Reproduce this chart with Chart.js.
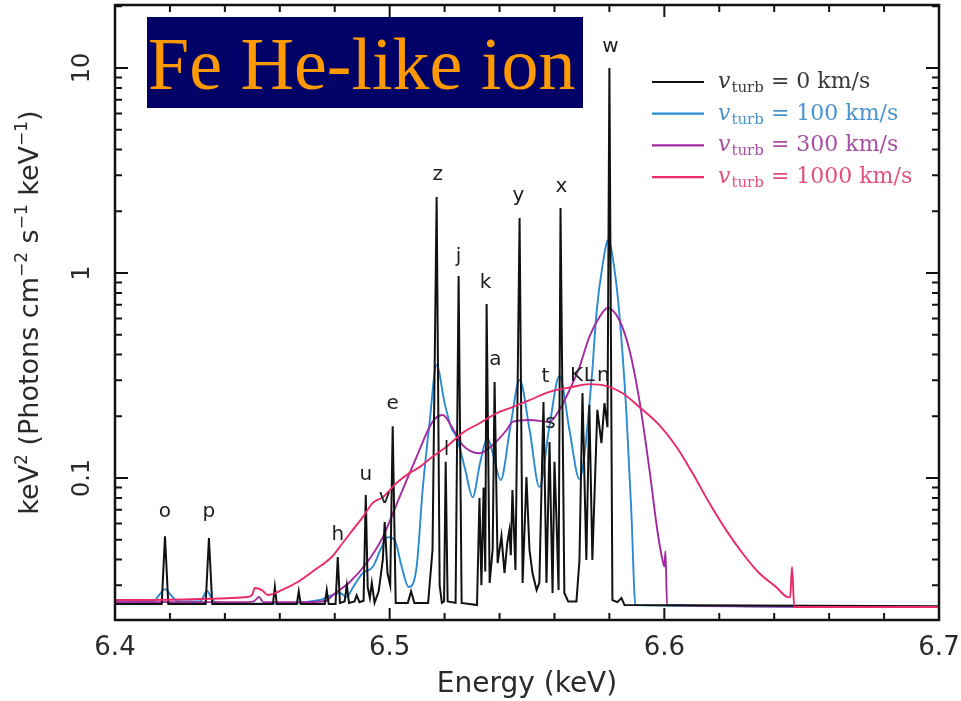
<!DOCTYPE html>
<html>
<head>
<meta charset="utf-8">
<title>Fe He-like ion</title>
<script src="https://cdn.jsdelivr.net/npm/chart.js@4.4.0/dist/chart.umd.min.js"></script>
<style>
  html, body { margin: 0; padding: 0; background: #fff; }
  canvas { display: block; }
</style>
</head>
<body>
<canvas id="spectrum" width="961" height="701"></canvas>
<script>
// Energies in keV, flux in keV^2 (photons cm^-2 s^-1 keV^-1)
const turbSpeeds = [0, 100, 300, 1000];

// v_turb = 0 km/s
const energy0 = [6.4000, 6.4170, 6.4182, 6.4194, 6.4330, 6.4342, 6.4354, 6.4575, 6.4582, 6.4589,
  6.4662, 6.4669, 6.4676, 6.4764, 6.4771, 6.4778, 6.4803, 6.4811, 6.4819, 6.4836,
  6.4844, 6.4852, 6.4872, 6.4880, 6.4890, 6.4905, 6.4913, 6.4920, 6.4928, 6.4935,
  6.4945, 6.4960, 6.4975, 6.4982, 6.4992, 6.5002, 6.5011, 6.5022, 6.5066, 6.5078,
  6.5090, 6.5140, 6.5156, 6.5171, 6.5182, 6.5190, 6.5198, 6.5204, 6.5211, 6.5240,
  6.5251, 6.5262, 6.5318, 6.5327, 6.5334, 6.5342, 6.5348, 6.5353, 6.5364, 6.5375, 6.5382,
  6.5393, 6.5407, 6.5418, 6.5428, 6.5436, 6.5441, 6.5447, 6.5458, 6.5473, 6.5484,
  6.5498, 6.5509, 6.5520, 6.5535, 6.5545, 6.5560, 6.5571, 6.5582, 6.5593, 6.5600, 6.5607,
  6.5615, 6.5622, 6.5636, 6.5650, 6.5680, 6.5691, 6.5702, 6.5716, 6.5727, 6.5738,
  6.5756, 6.5771, 6.5782, 6.5793, 6.5800, 6.5811, 6.5829, 6.5844, 6.5855, 6.7000];
const flux0 = [0.0243, 0.0243, 0.052, 0.0243, 0.0243, 0.051, 0.0243, 0.0243, 0.0295, 0.0243,
  0.0243, 0.0280, 0.0243, 0.0243, 0.0284, 0.0243, 0.0243, 0.0412, 0.0246, 0.0250,
  0.0300, 0.0246, 0.0250, 0.0268, 0.0248, 0.0252, 0.0826, 0.0294, 0.0260, 0.0308,
  0.0246, 0.0280, 0.0400, 0.0610, 0.0344, 0.0300, 0.179, 0.0246, 0.0246, 0.0280,
  0.0246, 0.0246, 0.0446, 2.35, 0.0300, 0.0246, 0.0250, 0.120, 0.0250, 0.0246,
  0.967, 0.0246, 0.0240, 0.0800, 0.0300, 0.0900, 0.0350, 0.706, 0.0308, 0.0450, 0.294,
  0.0385, 0.0521, 0.0344, 0.0480, 0.0557, 0.0420, 0.0874, 0.0356, 1.855, 0.0308,
  0.101, 0.0446, 0.0344, 0.0284, 0.0308, 0.235, 0.0308, 0.150, 0.0275, 0.120, 0.0645,
  0.0284, 2.075, 0.0275, 0.0250, 0.0250, 0.0398, 0.260, 0.0398, 0.227, 0.0398,
  0.215, 0.148, 0.232, 0.177, 10.0, 0.0254, 0.0248, 0.0260, 0.0240, 0.0237];

// v_turb = 100 km/s
const energy1 = [6.4000, 6.4140, 6.4160, 6.4182, 6.4204, 6.4230, 6.4310, 6.4335, 6.4360, 6.4420,
  6.4560, 6.4745, 6.4818, 6.4844, 6.4865, 6.4902, 6.4938, 6.4971, 6.4993, 6.5018,
  6.5044, 6.5069, 6.5098, 6.5120, 6.5145, 6.5171, 6.5200, 6.5225, 6.5244, 6.5275,
  6.5302, 6.5330, 6.5356, 6.5380, 6.5404, 6.5440, 6.5473, 6.5510, 6.5545, 6.5582,
  6.5618, 6.5655, 6.5691, 6.5735, 6.5753, 6.5775, 6.5796, 6.5818, 6.5836, 6.5862,
  6.5880, 6.5895, 6.7000];
const flux1 = [0.0248, 0.0250, 0.0268, 0.0287, 0.0268, 0.0250, 0.0250, 0.0281, 0.0250, 0.0245,
  0.0244, 0.0254, 0.0275, 0.0263, 0.0291, 0.0344, 0.0368, 0.0461, 0.0515, 0.0499,
  0.0368, 0.0294, 0.0368, 0.0874, 0.185, 0.356, 0.232, 0.175, 0.158, 0.110,
  0.0807, 0.120, 0.157, 0.125, 0.0977, 0.180, 0.301, 0.170, 0.0904, 0.180,
  0.315, 0.170, 0.0989, 0.301, 0.638, 1.09, 1.449, 1.05, 0.638, 0.207,
  0.0675, 0.0240, 0.0235];

// v_turb = 300 km/s
const energy2 = [6.4000, 6.4480, 6.4505, 6.4524, 6.4540, 6.4700, 6.4770, 6.4793, 6.4855, 6.4916,
  6.4975, 6.5036, 6.5098, 6.5156, 6.5193, 6.5229, 6.5265, 6.5327, 6.5375, 6.5425,
  6.5447, 6.5509, 6.5582, 6.5618, 6.5655, 6.5691, 6.5727, 6.5764, 6.5793, 6.5836,
  6.5873, 6.5909, 6.5945, 6.5975, 6.5993, 6.6000, 6.6004, 6.6010, 6.7000];
const flux2 = [0.0248, 0.0248, 0.0250, 0.0263, 0.0248, 0.0248, 0.0252, 0.0269, 0.0311, 0.0385,
  0.0515, 0.0807, 0.127, 0.188, 0.203, 0.175, 0.145, 0.132, 0.145, 0.171,
  0.188, 0.192, 0.188, 0.215, 0.269, 0.348, 0.488, 0.610, 0.675, 0.590,
  0.421, 0.240, 0.112, 0.0550, 0.0400, 0.0370, 0.0440, 0.0240, 0.0235];

// v_turb = 1000 km/s
const energy3 = [6.4000, 6.4484, 6.4500, 6.4509, 6.4535, 6.4556, 6.4607, 6.4665, 6.4727, 6.4789,
  6.4829, 6.4865, 6.4902, 6.4938, 6.4975, 6.5025, 6.5073, 6.5109, 6.5156, 6.5207,
  6.5265, 6.5327, 6.5389, 6.5447, 6.5509, 6.5582, 6.5665, 6.5727, 6.5789, 6.5847,
  6.5909, 6.5982, 6.6044, 6.6102, 6.6164, 6.6225, 6.6284, 6.6345, 6.6407, 6.6447,
  6.6458, 6.6465, 6.6473, 6.7000];
const flux3 = [0.0254, 0.0263, 0.0270, 0.0291, 0.0284, 0.0269, 0.0284, 0.0311, 0.0356, 0.0412,
  0.0482, 0.0557, 0.0645, 0.0755, 0.0807, 0.0946, 0.106, 0.113, 0.127, 0.142,
  0.166, 0.185, 0.207, 0.222, 0.240, 0.263, 0.278, 0.287, 0.281, 0.260,
  0.222, 0.181, 0.142, 0.106, 0.0755, 0.0557, 0.0431, 0.0344, 0.0294, 0.0263,
  0.0262, 0.0368, 0.0235, 0.0235];

// line identifications and where their letters sit
const lineNames = ['o', 'p', 'h', 'u', 'v', 'e', 'z', 'l', 'j', 'k', 'a', 'y', 't', 's', 'x', 'K', 'L', 'n', 'w'];
const lineEnergies = [6.4182, 6.4342, 6.4811, 6.4913, 6.4982, 6.5011, 6.5175, 6.5207, 6.5251, 6.5349,
  6.5385, 6.5469, 6.5567, 6.5585, 6.5625, 6.5680, 6.5727, 6.5778, 6.5804];
const labelFlux = [0.0645, 0.0645, 0.0499, 0.0977, 0.0755, 0.217, 2.84, 0.129, 1.13, 0.845,
  0.356, 2.25, 0.294, 0.175, 2.48, 0.298, 0.298, 0.298, 11.97];

const xTickValues = [6.4, 6.5, 6.6, 6.7];
const xTickLabels = ['6.4', '6.5', '6.6', '6.7'];
const yTickValues = [0.1, 1, 10];
const yTickLabels = ['0.1', '1', '10'];

const lineColors = ['#111111', '#2a8bd2', '#a22aa0', '#ea2a66'];
const textColors = ['#3a3a3a', '#4a93cc', '#a650a4', '#e4507e'];

const toPoints = (xs, ys) => xs.map((e, i) => ({ x: e, y: ys[i] }));

// frame, inward ticks, axis text, line letters, legend and title box
const decorations = {
  id: 'decorations',
  afterDraw(chart) {
    const { ctx, chartArea: a, scales: { x, y } } = chart;
    ctx.save();

    // plot frame
    ctx.strokeStyle = '#111';
    ctx.lineWidth = 2.5;
    ctx.strokeRect(a.left, a.top, a.right - a.left, a.bottom - a.top);

    // ticks on all four sides
    ctx.lineWidth = 2;
    ctx.beginPath();
    for (let i = 0; i <= 15; i++) {
      const px = x.getPixelForValue(6.4 + 0.02 * i);
      const len = i % 5 === 0 ? 12 : 7;
      ctx.moveTo(px, a.bottom); ctx.lineTo(px, a.bottom - len);
      ctx.moveTo(px, a.top); ctx.lineTo(px, a.top + len);
    }
    for (let k = -2; k <= 1; k++) {
      for (let m = 1; m <= 9; m++) {
        const v = m * Math.pow(10, k);
        if (v < y.min || v > y.max) continue;
        const py = y.getPixelForValue(v);
        const len = m === 1 ? 13 : 7;
        ctx.moveTo(a.left, py); ctx.lineTo(a.left + len, py);
        ctx.moveTo(a.right, py); ctx.lineTo(a.right - len, py);
      }
    }
    ctx.stroke();

    // tick labels
    ctx.fillStyle = '#2a2a2a';
    ctx.font = '26px "DejaVu Sans"';
    ctx.textAlign = 'center';
    ctx.textBaseline = 'alphabetic';
    xTickValues.forEach((v, i) => {
      ctx.fillText(xTickLabels[i], x.getPixelForValue(v), 655);
    });
    ctx.font = '24px "DejaVu Sans"';
    yTickValues.forEach((v, i) => {
      ctx.save();
      ctx.translate(89, y.getPixelForValue(v));
      ctx.rotate(-Math.PI / 2);
      ctx.fillText(yTickLabels[i], 0, 0);
      ctx.restore();
    });

    // axis titles
    ctx.font = '28px "DejaVu Sans"';
    ctx.fillText('Energy (keV)', (a.left + a.right) / 2, 692);

    const parts = [['keV', 0], ['2', 1], [' (Photons cm', 0], ['\u22122', 1], [' s', 0], ['\u22121', 1],
      [' keV', 0], ['\u22121', 1], [')', 0]];
    const mainFont = '27px "DejaVu Sans"';
    const supFont = '17px "DejaVu Sans"';
    let total = 0;
    parts.forEach(([t, sup]) => { ctx.font = sup ? supFont : mainFont; total += ctx.measureText(t).width; });
    ctx.save();
    ctx.translate(38, (a.top + a.bottom) / 2);
    ctx.rotate(-Math.PI / 2);
    ctx.textAlign = 'left';
    let cx = -total / 2;
    parts.forEach(([t, sup]) => {
      ctx.font = sup ? supFont : mainFont;
      ctx.fillText(t, cx, sup ? -11 : 0);
      cx += ctx.measureText(t).width;
    });
    ctx.restore();

    // line identifications
    ctx.font = '20px "DejaVu Sans"';
    ctx.fillStyle = '#1e1e1e';
    ctx.textAlign = 'center';
    lineNames.forEach((n, i) => {
      ctx.fillText(n, x.getPixelForValue(lineEnergies[i]), y.getPixelForValue(labelFlux[i]));
    });

    // legend
    chart.data.datasets.forEach((ds, i) => {
      const ly = 82 + i * 31.7;
      ctx.strokeStyle = ds.borderColor;
      ctx.lineWidth = 2.2;
      ctx.beginPath();
      ctx.moveTo(652, ly); ctx.lineTo(704, ly);
      ctx.stroke();
      ctx.fillStyle = textColors[i];
      ctx.textAlign = 'left';
      let tx = 718;
      ctx.font = 'italic 22px "DejaVu Serif"';
      ctx.fillText('v', tx, ly + 6);
      tx += ctx.measureText('v').width + 1;
      ctx.font = '15px "DejaVu Serif"';
      ctx.fillText('turb', tx, ly + 10);
      tx += ctx.measureText('turb').width;
      ctx.font = '22px "DejaVu Serif"';
      ctx.fillText(' = ' + turbSpeeds[i] + ' km/s', tx, ly + 6);
    });

    // title box
    ctx.fillStyle = '#000066';
    ctx.fillRect(147, 17, 436, 91);
    ctx.fillStyle = '#ff9900';
    ctx.font = '74px "Liberation Serif"';
    ctx.textAlign = 'left';
    ctx.fillText('Fe He-like ion', 148, 89);

    ctx.restore();
  }
};

const ctx = document.getElementById('spectrum').getContext('2d');
const spectrumChart = new Chart(ctx, {
  type: 'line',
  data: {
    datasets: [
      { label: 'v_turb = 0 km/s', data: toPoints(energy0, flux0), borderColor: lineColors[0],
        borderWidth: 2, tension: 0, order: 2 },
      { label: 'v_turb = 100 km/s', data: toPoints(energy1, flux1), borderColor: lineColors[1],
        borderWidth: 1.9, cubicInterpolationMode: 'monotone', order: 4 },
      { label: 'v_turb = 300 km/s', data: toPoints(energy2, flux2), borderColor: lineColors[2],
        borderWidth: 1.9, cubicInterpolationMode: 'monotone', order: 3 },
      { label: 'v_turb = 1000 km/s', data: toPoints(energy3, flux3), borderColor: lineColors[3],
        borderWidth: 1.9, cubicInterpolationMode: 'monotone', order: 1 }
    ]
  },
  options: {
    responsive: false,
    animation: false,
    devicePixelRatio: 1,
    layout: { padding: { left: 115, right: 22, top: 5, bottom: 81 } },
    elements: { point: { radius: 0 } },
    scales: {
      x: { type: 'linear', min: 6.4, max: 6.7, display: false },
      y: { type: 'logarithmic', min: 0.0203, max: 20.3, display: false }
    },
    plugins: {
      legend: { display: false },
      tooltip: { enabled: false }
    }
  },
  plugins: [decorations]
});
</script>
</body>
</html>
